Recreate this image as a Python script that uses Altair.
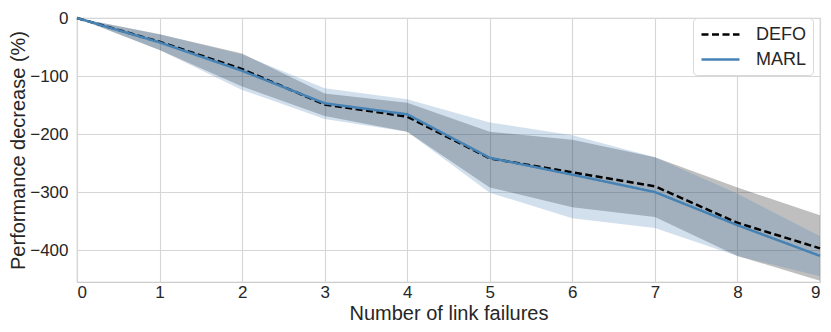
import altair as alt
import pandas as pd

failures = [0, 1, 2, 3, 4, 5, 6, 7, 8, 9]
defo_mean = [0, -41, -88, -149, -170, -242, -266, -290, -353, -397]
defo_lo = [0, -55, -118, -169, -196, -292, -326, -343, -410, -453]
defo_hi = [0, -28, -61, -130, -146, -196, -210, -240, -292, -340]
marl_mean = [0, -42, -91, -147, -166, -241, -270, -300, -357, -410]
marl_lo = [0, -55, -124, -174, -196, -301, -345, -362, -410, -445]
marl_hi = [0, -28, -63, -121, -140, -180, -202, -240, -303, -376]

rows = []
for i, x in enumerate(failures):
    rows.append({"x": x, "series": "DEFO", "mean": defo_mean[i], "lo": defo_lo[i], "hi": defo_hi[i]})
    rows.append({"x": x, "series": "MARL", "mean": marl_mean[i], "lo": marl_lo[i], "hi": marl_hi[i]})
df = pd.DataFrame(rows)

FONT = "Liberation Sans"
BLUE = "#4682b4"

xs = alt.Scale(domain=[0, 9], nice=False)
ys = alt.Scale(domain=[-455, 0], nice=False, zero=False)

x_enc = alt.X("x:Q", scale=xs, title="Number of link failures",
              axis=alt.Axis(values=failures, format="d"))
y_enc = alt.Y("lo:Q", scale=ys, title="Performance decrease (%)",
              axis=alt.Axis(values=[0, -100, -200, -300, -400]))

band_defo = alt.Chart(df).transform_filter(alt.datum.series == "DEFO").mark_area(
    color="black", opacity=0.25
).encode(x=x_enc, y=y_enc, y2="hi:Q")

band_marl = alt.Chart(df).transform_filter(alt.datum.series == "MARL").mark_area(
    color=BLUE, opacity=0.25
).encode(x=x_enc, y=y_enc, y2="hi:Q")

lines = alt.Chart(df).mark_line(strokeWidth=2.5).encode(
    x=x_enc,
    y=alt.Y("mean:Q", scale=ys),
    color=alt.Color("series:N", scale=alt.Scale(domain=["DEFO", "MARL"], range=["black", BLUE]),
                    legend=alt.Legend(title=None, orient="none", legendX=616, legendY=0,
                                      symbolType="M-0.89,0H3.33", symbolSize=324, symbolStrokeWidth=2.5,
                                      labelFontSize=18, labelFont=FONT, labelColor="#262626",
                                      strokeColor="#d9d9d9", fillColor="white", cornerRadius=4,
                                      padding=6, rowPadding=5, labelOffset=36)),
    strokeDash=alt.StrokeDash("series:N", scale=alt.Scale(domain=["DEFO", "MARL"], range=[[7, 3.5], [1, 0]]),
                              legend=None),
    order=alt.Order("series:N", sort="ascending"),
)

chart = (band_defo + band_marl + lines).properties(
    width=743, height=264,
    autosize=alt.AutoSizeParams(type="none"),
    padding={"left": 69, "top": 10, "right": 3, "bottom": 42},
).configure_view(stroke="#cccccc", strokeWidth=1.2).configure_axis(
    grid=True, gridColor="#d6d6d6", gridWidth=1.1, domain=False, ticks=False,
    labelFont=FONT, labelFontSize=17, labelColor="#262626",
    titleFont=FONT, titleColor="#262626", titleFontWeight="normal",
).configure_axisY(labelPadding=9, titleFontSize=20, titleX=-49).configure_axisX(
    labelPadding=2, titleFontSize=20, titleBaseline="alphabetic", titleY=37.5
)

chart.save("out.html", embed_options={"renderer": "svg", "actions": False})
